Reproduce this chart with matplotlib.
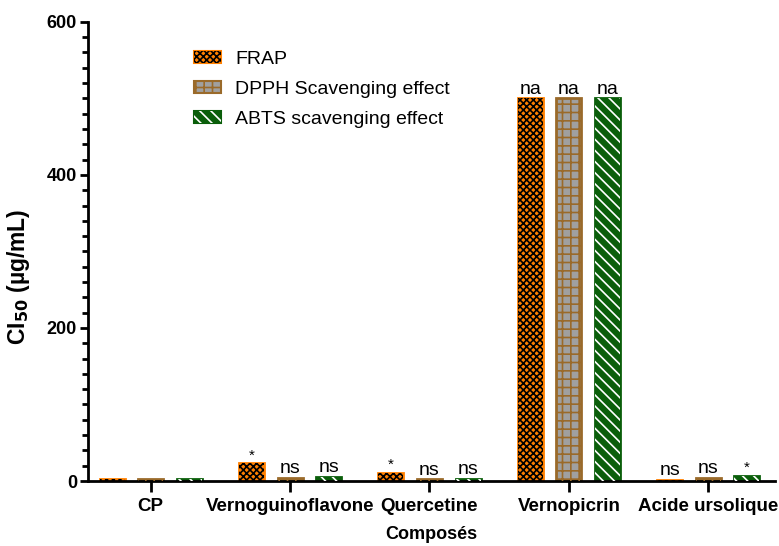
import matplotlib.pyplot as plt
import numpy as np
from matplotlib.patches import Patch
from matplotlib.legend_handler import HandlerTuple
from matplotlib.ticker import MultipleLocator

plt.rcParams['font.family'] = ['Liberation Sans', 'DejaVu Sans']
plt.rcParams['hatch.linewidth'] = 1.2

compounds = ["CP", "Vernoguinoflavone", "Quercetine", "Vernopicrin", "Acide ursolique"]
frap = [2, 23, 11, 500, 1.5]
dpph = [3, 4, 2, 500, 4]
abts = [3, 5, 3, 500, 7]
frap_marks = ["", "*", "*", "na", "ns"]
dpph_marks = ["", "ns", "ns", "na", "ns"]
abts_marks = ["", "ns", "ns", "na", "*"]

series = [
    ("FRAP", frap, frap_marks, "#ff8000", "#ff8000", "black", "xxxxx"),
    ("DPPH Scavenging effect", dpph, dpph_marks, "#a0a0a0", "#9a6a2a", "#9a6a2a", "++"),
    ("ABTS scavenging effect", abts, abts_marks, "#0a5e0a", "#0a5e0a", "white", "\\\\\\"),
]

fig = plt.figure(figsize=(7.79, 5.46), dpi=100)
ax = fig.add_axes([0.113, 0.119, 0.882, 0.841])

x = np.arange(len(compounds))
offset = 0.277
width = 0.18
handles = []
for i, (name, vals, marks, face, edge, hcol, hatch) in enumerate(series):
    pos = x + (i - 1) * offset
    ax.bar(pos, vals, width, color=face, edgecolor=edge, linewidth=2, zorder=2)
    ax.bar(pos, vals, width, facecolor="none", edgecolor=hcol, hatch=hatch,
           linewidth=0, zorder=3)
    for p, v, m in zip(pos, vals, marks):
        if m:
            fs = 11 if m == "*" else 14
            ax.text(p, v + 1, m, ha="center", va="bottom", fontsize=fs, zorder=4)
    h1 = Patch(facecolor=face, edgecolor=edge, linewidth=1.5)
    h2 = Patch(facecolor="none", edgecolor=hcol, hatch=hatch, linewidth=0)
    handles.append((h1, h2))

ax.legend(handles, [s[0] for s in series], handler_map={tuple: HandlerTuple(ndivide=1, pad=0)},
          loc="upper left", bbox_to_anchor=(0.249, 0.906), bbox_transform=fig.transFigure,
          frameon=False, fontsize=14, borderpad=0, borderaxespad=0,
          handlelength=1.4, handleheight=0.57, labelspacing=0.66, handletextpad=0.72)

ax.set_xlim(-0.45, 4.48)
ax.set_ylim(0, 600)
ax.set_yticks([0, 200, 400, 600])
ax.yaxis.set_minor_locator(MultipleLocator(20))
ax.set_xticks(x)
ax.set_xticklabels(compounds, fontweight="bold", fontsize=13.5)
for lab in ax.get_yticklabels():
    lab.set_fontweight("bold")
    lab.set_fontsize(13)

for s in ["top", "right"]:
    ax.spines[s].set_visible(False)
for s in ["left", "bottom"]:
    ax.spines[s].set_linewidth(2)
ax.tick_params(axis="y", which="major", length=6, width=2, pad=2)
ax.tick_params(axis="y", which="minor", length=4, width=2)
ax.tick_params(axis="x", which="major", length=8, width=2, pad=4)

ax.set_ylabel("CI$_{\\mathbf{50}}$ (µg/mL)", fontweight="bold", fontsize=16.5)
ax.yaxis.set_label_coords(-0.0815, 0.444)
ax.set_xlabel("Composés", fontweight="bold", fontsize=13, labelpad=8)

fig.savefig("out.png", dpi=100)
